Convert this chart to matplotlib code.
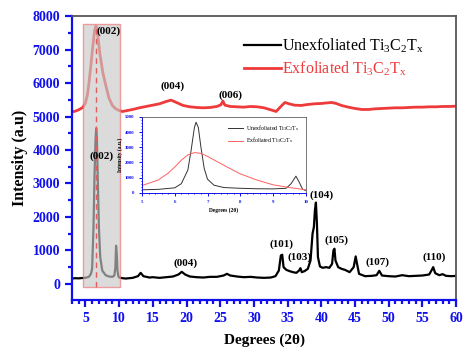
"""
plot.py
XRD patterns of unexfoliated and exfoliated Ti3C2Tx with a zoomed inset
of the (002) region (5-10 degrees).
"""
import matplotlib
matplotlib.use("Agg")
import matplotlib.pyplot as plt
from matplotlib.patches import Rectangle
from matplotlib.ticker import MultipleLocator

plt.rcParams["font.family"] = ["Liberation Serif", "DejaVu Serif"]
plt.rcParams["mathtext.default"] = "regular"

#main pattern, unexfoliated (black)
unexf_2theta = [3.0, 3.5, 4.0, 4.5, 5.0, 5.5, 5.8, 6.0, 6.2, 6.35, 6.5, 6.6, 6.7,
                6.85, 7.0, 7.2, 7.5, 8.0, 8.5, 9.0, 9.3, 9.45, 9.55, 9.65, 9.75, 9.9, 10.0,
                10.5, 11.0, 12.0, 12.8, 13.2, 13.6, 14.5, 15.0, 16.0, 17.0, 18.0, 18.8,
                19.3, 19.8, 20.5, 21.5, 22.5, 23.5, 24.5, 25.5, 26.0, 26.5, 27.5, 28.5,
                29.5, 30.5, 31.5, 32.5, 33.2, 33.7, 34.0, 34.2, 34.4, 34.8, 35.3, 35.8,
                36.3, 36.7, 36.9, 37.1, 37.5, 38.0, 38.4, 38.7, 38.9, 39.05, 39.2, 39.35,
                39.5, 39.8, 40.2, 40.7, 41.2, 41.6, 41.8, 41.95, 42.1, 42.5, 43.0, 43.5,
                44.2, 44.8, 45.1, 45.3, 45.6, 46.5, 47.5, 48.2, 48.6, 49.0, 50.0, 51.0,
                52.0, 53.0, 54.0, 55.0, 56.0, 56.4, 56.6, 56.9, 57.5, 58.0, 58.5, 59.3, 60.0]
unexf_int = [160, 170, 165, 175, 180, 210, 290, 450, 1700, 3200, 4300, 4650, 4400,
             3000, 1700, 800, 400, 260, 220, 210, 250, 500, 1140, 900, 400, 220, 190,
             170, 160, 180, 230, 330, 230, 190, 200, 180, 200, 220, 280,
             360, 280, 220, 200, 190, 210, 210, 250, 300, 250, 220, 200,
             210, 190, 180, 190, 230, 400, 850, 870, 500, 420, 380, 350,
             330, 400, 470, 350, 380, 450, 700, 1500, 1700, 2200, 2430, 1800,
             800, 520, 480, 500, 480, 600, 1000, 1050, 700, 500, 450, 420,
             350, 500, 820, 600, 300, 230, 240, 260, 390, 250, 230, 220,
             260, 230, 240, 250, 280, 420, 500, 320, 260, 290, 240, 230, 240]

#main pattern, exfoliated (red)
exf_2theta = [3.0, 3.5, 4.0, 4.6, 5.0, 5.3, 5.5, 5.8, 6.1, 6.35, 6.55, 6.7, 6.9, 7.2, 7.6,
              8.0, 8.5, 9.0, 9.5, 10.0, 10.5, 11.0, 12.0, 13.0, 14.0, 15.0, 16.0, 17.0,
              17.7, 18.5, 19.5, 20.5, 21.5, 22.5, 23.5, 24.5, 25.1, 25.4, 25.7, 26.5,
              27.5, 28.5, 29.5, 30.5, 31.5, 32.5, 33.3, 34.0, 34.6, 35.2, 36.0, 37.0,
              38.0, 39.0, 40.0, 41.0, 41.5, 42.2, 43.0, 44.0, 45.0, 46.0, 47.0, 48.0,
              49.0, 50.0, 51.0, 52.0, 53.0, 54.0, 55.0, 56.0, 57.0, 58.0, 59.0, 60.0]
exf_int = [5140, 5160, 5200, 5270, 5400, 5650, 5950, 6500, 7100, 7550, 7700, 7650, 7300,
           6800, 6300, 5950, 5550, 5330, 5230, 5180, 5150, 5170, 5210, 5260, 5300, 5340,
           5380, 5450, 5490, 5420, 5330, 5290, 5270, 5260, 5270, 5300, 5350, 5460, 5340,
           5300, 5290, 5280, 5300, 5290, 5260, 5200, 5150, 5300, 5420, 5380, 5340, 5330,
           5360, 5380, 5390, 5410, 5420, 5390, 5330, 5280, 5240, 5210, 5210, 5230,
           5240, 5250, 5260, 5260, 5270, 5280, 5280, 5290, 5290, 5300, 5300, 5310]

#inset (002) region
ins_unexf_2theta = [5.0, 5.5, 6.0, 6.2, 6.4, 6.5, 6.6, 6.65, 6.72, 6.8, 6.9, 7.0, 7.2, 7.5,
                    8.0, 8.5, 9.0, 9.4, 9.55, 9.7, 9.8, 9.9, 10.0]
ins_unexf_int = [200, 230, 330, 600, 1500, 2800, 4300, 4650, 4300, 3000, 1600, 900, 500,
                 350, 300, 270, 260, 300, 600, 1100, 700, 250, 150]
ins_exf_2theta = [5.0, 5.5, 5.8, 6.0, 6.2, 6.4, 6.6, 6.8, 7.0, 7.3, 7.6, 8.0, 8.5, 9.0,
                  9.5, 10.0]
ins_exf_int = [480, 850, 1300, 1700, 2150, 2500, 2650, 2600, 2400, 2050, 1700, 1250, 850,
               530, 350, 200]

#peak labels: (text, x, y)
unexf_labels = [("(002)", 7.4, 3800), ("(004)", 19.9, 620), ("(101)", 34.1, 1190),
                ("(103)", 36.8, 800), ("(104)", 40.1, 2660), ("(105)", 42.3, 1310),
                ("(107)", 48.4, 650), ("(110)", 56.7, 800)]
exf_labels = [("(002)", 8.5, 7550), ("(004)", 17.9, 5910), ("(006)", 26.5, 5640)]

BLUE = "#1010ee"
RED = "#ee3a3a"
SPINE = "#555555"


def style_axes(ax, fs, major_len, minor_len, width):
    for side in ("left", "bottom"):
        ax.spines[side].set_color(BLUE)
        ax.spines[side].set_linewidth(width)
    for side in ("top", "right"):
        ax.spines[side].set_color(SPINE)
        ax.spines[side].set_linewidth(width * 0.8)
    ax.tick_params(which="both", direction="out", colors=BLUE, width=width,
                   top=False, right=False)
    ax.tick_params(which="major", length=major_len, labelsize=fs)
    ax.tick_params(which="minor", length=minor_len)
    for lab in ax.get_xticklabels() + ax.get_yticklabels():
        lab.set_fontweight("bold")


def main():
    fig = plt.figure(figsize=(4.64, 3.5), dpi=100)
    ax = fig.add_axes([0.155, 0.143, 0.828, 0.811])

    ax.plot(unexf_2theta, unexf_int, color="black", lw=1.6,
            label="Unexfoliated Ti$_3$C$_2$T$_x$")
    ax.plot(exf_2theta, exf_int, color=RED, lw=2.0,
            label="Exfoliated Ti$_3$C$_2$T$_x$")

    #highlight box over the (002) region
    ax.add_patch(Rectangle((4.6, -80), 5.6, 7840, facecolor="#c8c8c8", alpha=0.65,
                           edgecolor="#f07070", lw=1.0, zorder=3))
    ax.plot([6.6, 6.6], [-80, 7700], color="#e06060", lw=1.0, ls=(0, (4, 3)), zorder=4)

    for txt, x, y in unexf_labels + exf_labels:
        ax.text(x, y, txt, fontsize=8, fontweight="bold", ha="center", va="center",
                zorder=5)

    ax.set_xlim(3, 60)
    ax.set_ylim(-480, 8000)
    ax.xaxis.set_major_locator(MultipleLocator(5))
    ax.xaxis.set_minor_locator(MultipleLocator(1))
    ax.yaxis.set_major_locator(MultipleLocator(1000))
    ax.yaxis.set_minor_locator(MultipleLocator(500))
    style_axes(ax, 10, 5, 3, 1.6)
    ax.set_xticks([t for t in range(5, 61, 5)])
    for lab in ax.get_xticklabels() + ax.get_yticklabels():
        lab.set_fontweight("bold")
    ax.set_xlabel("Degrees (2θ)", fontsize=11, fontweight="bold", labelpad=6)
    ax.set_ylabel("Intensity (a.u)", fontsize=11.5, fontweight="bold", labelpad=3)

    leg = ax.legend(loc="upper left", bbox_to_anchor=(0.41, 0.98), frameon=False,
                    fontsize=11.5, handlelength=2.3, handletextpad=0.1, labelspacing=0.3)
    leg.get_texts()[1].set_color(RED)

    #inset
    ins = fig.add_axes([0.306, 0.449, 0.353, 0.217])
    ins.plot(ins_unexf_2theta, ins_unexf_int, color="#333333", lw=0.7,
             label="Unexfoliated Ti$_3$C$_2$T$_x$")
    ins.plot(ins_exf_2theta, ins_exf_int, color="#ff6060", lw=0.7,
             label="Exfoliated Ti$_3$C$_2$T$_x$")
    ins.set_xlim(5, 10)
    ins.set_ylim(0, 5000)
    ins.xaxis.set_major_locator(MultipleLocator(1))
    ins.xaxis.set_minor_locator(MultipleLocator(0.2))
    ins.yaxis.set_major_locator(MultipleLocator(1000))
    ins.yaxis.set_minor_locator(MultipleLocator(200))
    style_axes(ins, 3.5, 2, 1, 0.7)
    ins.set_xlabel("Degrees (2θ)", fontsize=4, fontweight="bold", labelpad=2)
    ins.set_ylabel("Intensity (a.u.)", fontsize=4, fontweight="bold", labelpad=1)
    ins.legend(loc="upper right", frameon=False, fontsize=4.2, handlelength=2.5,
               handletextpad=0.6, borderaxespad=0.6)

    fig.savefig("out.png", dpi=100)
    plt.close(fig)


if __name__ == "__main__":
    main()
